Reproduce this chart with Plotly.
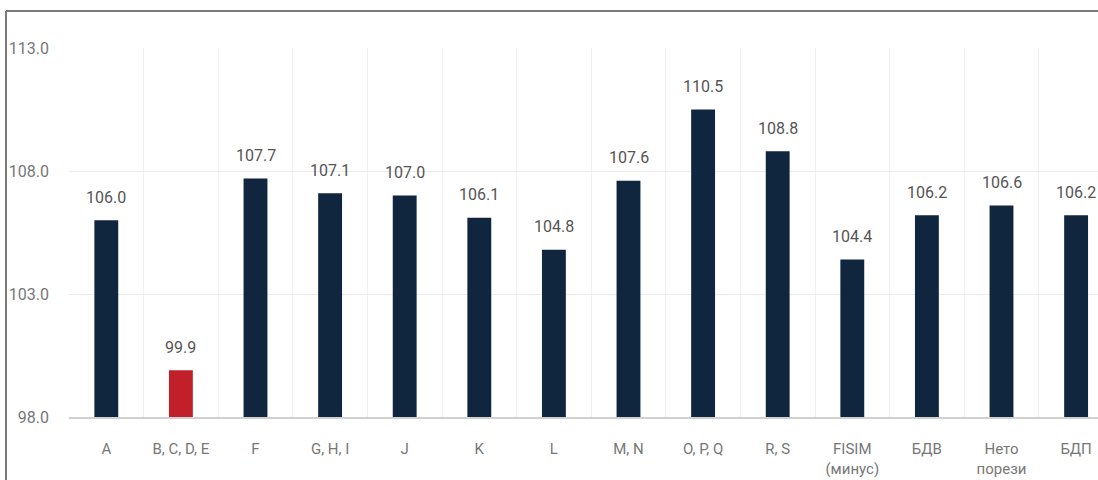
import plotly.graph_objects as go

categories = ["A", "B, C, D, E", "F", "G, H, I", "J", "K", "L", "M, N", "O, P, Q",
              "R, S", "FISIM<br>(минус)", "БДВ", "Нето<br>порези", "БДП"]
values = [106.0, 99.9, 107.7, 107.1, 107.0, 106.1, 104.8, 107.6, 110.5, 108.8, 104.4, 106.2, 106.6, 106.2]
highlight = [False, True] + [False] * 12
y_ticks = [98.0, 103.0, 108.0, 113.0]

NAVY = "#10263F"
RED = "#C1202A"
FONT = "Roboto, Liberation Sans Narrow, sans-serif"

xpos = list(range(len(categories)))
colors = [RED if h else NAVY for h in highlight]

fig = go.Figure()
fig.add_trace(go.Bar(x=xpos, y=[v - y_ticks[0] for v in values], base=y_ticks[0],
                     marker=dict(color=colors, line=dict(width=0)),
                     width=0.32, hoverinfo="skip"))

for x, v in zip(xpos, values):
    fig.add_annotation(x=x, y=v, text=f"{v:.1f}", showarrow=False, yanchor="middle",
                       yshift=23, font=dict(family=FONT, size=16, color="#555555"))

W, H = 1098, 480
L, R, T, B = 69, 0, 48, 63
pw = W - L - R
ph = H - T - B
fx = (6 - L) / pw
fy = 1 + (T - 11) / ph
fig.add_shape(type="line", xref="paper", yref="paper", x0=fx, x1=fx, y0=-0.5, y1=fy,
              line=dict(color="#7a7a7a", width=2))
fig.add_shape(type="line", xref="paper", yref="paper", x0=fx, x1=1.2, y0=fy, y1=fy,
              line=dict(color="#7a7a7a", width=2))

x_end = -0.5 + pw / 74.6
fig.update_layout(
    width=W, height=H,
    margin=dict(l=L, r=R, t=T, b=B, pad=0),
    paper_bgcolor="white", plot_bgcolor="white",
    showlegend=False,
    font=dict(family=FONT),
    xaxis=dict(range=[-0.5, x_end], tickmode="array", tickvals=xpos, ticktext=categories,
               showgrid=False, zeroline=False, showline=True, linecolor="#d0d0d0", linewidth=2,
               ticks="", ticklabelstandoff=17,
               tickfont=dict(family=FONT, size=15, color="#777777"),
               minor=dict(tickmode="array", tickvals=[i + 0.5 for i in range(-1, len(categories))],
                          showgrid=True, gridcolor="#f0f0f0", gridwidth=1, ticks="")),
    yaxis=dict(range=[98, 113], tickmode="array", tickvals=y_ticks,
               ticktext=[f"{t:.1f}" for t in y_ticks],
               showgrid=True, gridcolor="#ececec", gridwidth=1, zeroline=False,
               showline=False, ticks="", ticklabelstandoff=19,
               tickfont=dict(family=FONT, size=16, color="#777777")),
)

fig.write_html("out.html", config={"displayModeBar": False},
               post_script="document.body.style.margin='0';document.body.style.overflow='hidden';")
